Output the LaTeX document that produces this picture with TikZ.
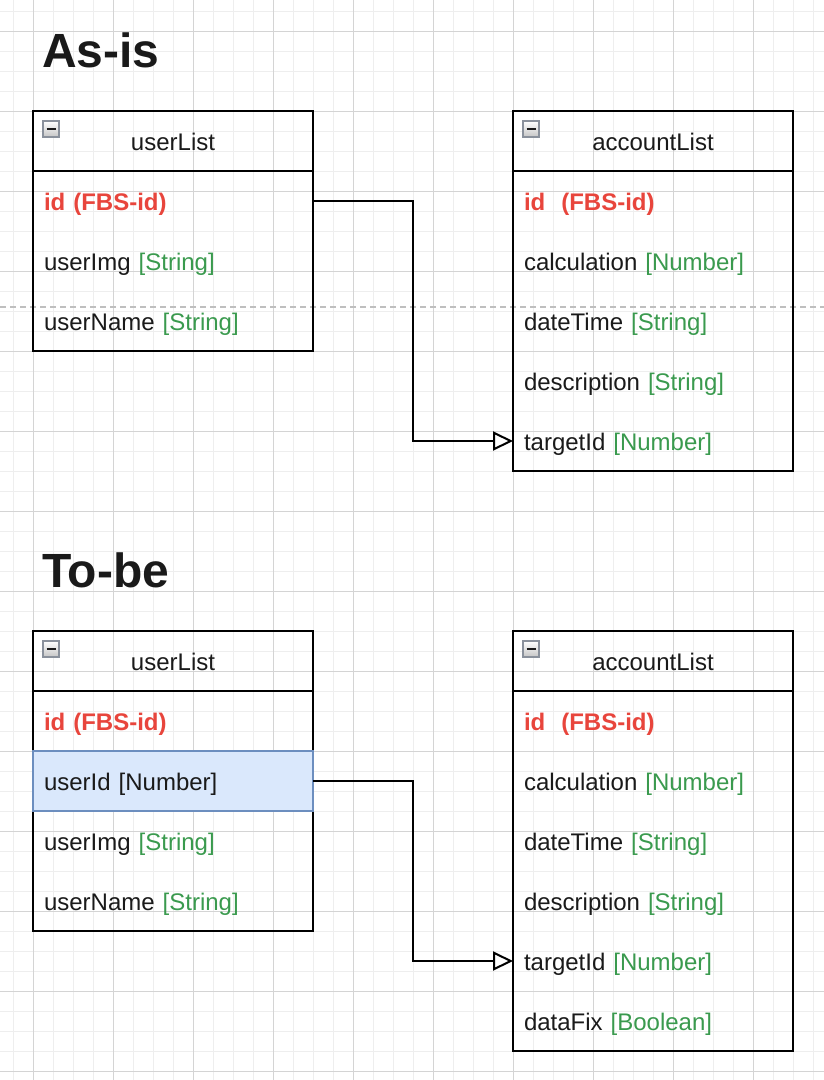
\documentclass[tikz,border=0pt]{standalone}
\usepackage{fontspec}
\setmainfont{Liberation Sans}
\usetikzlibrary{arrows.meta,positioning}

\definecolor{inkdark}{HTML}{1A1A1A}
\definecolor{fbsred}{HTML}{E8453C}
\definecolor{typegreen}{HTML}{3A9A4E}
\definecolor{pickfill}{HTML}{DAE8FC}
\definecolor{pickline}{HTML}{6C8EBF}
\definecolor{gridminor}{HTML}{EEEEEE}
\definecolor{gridmajor}{HTML}{D4D4D4}
\definecolor{togglerim}{HTML}{8A919C}

\newcommand{\typ}[1]{\textcolor{typegreen}{#1}}

\begin{document}
\begin{tikzpicture}[
  x=1pt,y=-1pt,
  font=\fontsize{24}{28}\selectfont,text=inkdark,
  title/.style={font=\fontsize{48}{56}\selectfont\bfseries,anchor=base west,inner sep=0pt},
  head/.style={draw,line width=2pt,minimum width=280pt,minimum height=60pt,inner sep=0pt,outer sep=0pt,text height=18pt,text depth=0pt,anchor=north west},
  field/.style={text width=258pt,inner xsep=11pt,inner ysep=0pt,minimum height=60pt,align=left,outer sep=0pt,text height=18pt,text depth=0pt},
  keyfield/.style={field,text=fbsred,font=\fontsize{24}{28}\selectfont\bfseries},
  picked/.style={field,fill=pickfill,draw=pickline,line width=1.5pt},
  frame/.style={draw,line width=2pt},
  toggle/.style={draw=togglerim,line width=1.5pt,top color=white,bottom color=gray!45,minimum size=16pt,inner sep=0pt},
  link/.style={-{Triangle[open,length=20pt,width=19pt]},line width=2pt},
  minor/.style={draw=gridminor,line width=1pt},
  major/.style={draw=gridmajor,line width=1pt},
  pagebreak/.style={draw=gray!50,line width=1.5pt,dash pattern=on 6pt off 4pt}
]
\useasboundingbox (0,0) rectangle (824,1080);
\fill[white] (0,0) rectangle (824,1080);

% grid
\foreach \gx in {13,33,...,813} \draw[minor] (\gx,0) -- (\gx,1080);
\foreach \gy in {11,31,...,1071} \draw[minor] (0,\gy) -- (824,\gy);
\foreach \gx in {33,113,...,793} \draw[major] (\gx,0) -- (\gx,1080);
\foreach \gy in {31,111,...,1071} \draw[major] (0,\gy) -- (824,\gy);

\draw[pagebreak] (0,307) -- (824,307);

% As-is
\node[title] (asis) at (42,67) {As-is};

\node[head] (ua-head) at (33,111) {userList};
\node[toggle] (ua-btn) at (51,129) {\rule{9pt}{2pt}};
\node[keyfield,below=0pt of ua-head] (ua-id) {id (FBS-id)};
\node[field,below=0pt of ua-id] (ua-img) {userImg \typ{[String]}};
\node[field,below=0pt of ua-img] (ua-name) {userName \typ{[String]}};
\draw[frame] (ua-head.north west) rectangle (ua-name.south east);

\node[head] (aa-head) at (513,111) {accountList};
\node[toggle] (aa-btn) at (531,129) {\rule{9pt}{2pt}};
\node[keyfield,below=0pt of aa-head] (aa-id) {id~~(FBS-id)};
\node[field,below=0pt of aa-id] (aa-calc) {calculation \typ{[Number]}};
\node[field,below=0pt of aa-calc] (aa-time) {dateTime \typ{[String]}};
\node[field,below=0pt of aa-time] (aa-desc) {description \typ{[String]}};
\node[field,below=0pt of aa-desc] (aa-target) {targetId \typ{[Number]}};
\draw[frame] (aa-head.north west) rectangle (aa-target.south east);

\draw[link] (ua-id.east) -- ++(100,0) |- (aa-target.west);

% To-be
\node[title] (tobe) at (42,587) {To-be};

\node[head] (ub-head) at (33,631) {userList};
\draw[frame] (ub-head.north west) rectangle ++(280,300);
\node[toggle] (ub-btn) at (51,649) {\rule{9pt}{2pt}};
\node[keyfield,below=0pt of ub-head] (ub-id) {id (FBS-id)};
\node[picked,below=0pt of ub-id] (ub-uid) {userId [Number]};
\node[field,below=0pt of ub-uid] (ub-img) {userImg \typ{[String]}};
\node[field,below=0pt of ub-img] (ub-name) {userName \typ{[String]}};

\node[head] (ab-head) at (513,631) {accountList};
\node[toggle] (ab-btn) at (531,649) {\rule{9pt}{2pt}};
\node[keyfield,below=0pt of ab-head] (ab-id) {id~~(FBS-id)};
\node[field,below=0pt of ab-id] (ab-calc) {calculation \typ{[Number]}};
\node[field,below=0pt of ab-calc] (ab-time) {dateTime \typ{[String]}};
\node[field,below=0pt of ab-time] (ab-desc) {description \typ{[String]}};
\node[field,below=0pt of ab-desc] (ab-target) {targetId \typ{[Number]}};
\node[field,below=0pt of ab-target] (ab-fix) {dataFix \typ{[Boolean]}};
\draw[frame] (ab-head.north west) rectangle (ab-fix.south east);

\draw[link] (ub-uid.east) -- ++(100,0) |- (ab-target.west);
\end{tikzpicture}
\end{document}
